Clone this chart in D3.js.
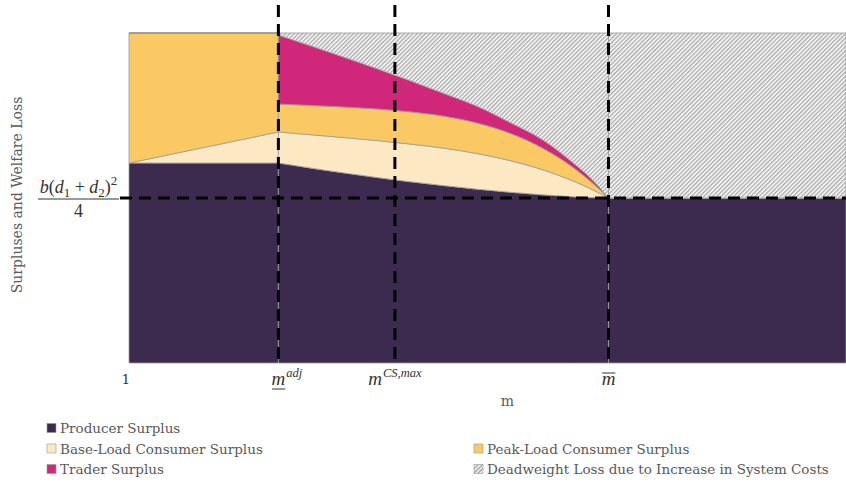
<!DOCTYPE html>
<html>
<head>
<meta charset="utf-8">
<script src="https://cdn.jsdelivr.net/npm/d3@7"></script>
<style>
  body { margin: 0; background: #fff; }
  svg { display: block; }
</style>
</head>
<body>
<svg id="chart" width="846" height="482"></svg>
<script>
// ---- Data -------------------------------------------------------------
const seriesKeys = ["producer", "baseLoad", "peakLoad", "trader", "deadweight"];

// Interval 1: m from 1 up to the adjusted lower bound
const mLeft          = [1.00, 2.00];
const producerLeft   = [0.606, 0.606];
const baseLoadLeft   = [0.000, 0.094];
const peakLoadLeft   = [0.394, 0.300];
const traderLeft     = [0.000, 0.000];
const deadweightLeft = [0.000, 0.000];

// Interval 2: from the adjusted lower bound up to m-bar
const mMid          = [2.00, 2.22, 2.44, 2.66, 2.88, 3.11, 3.33, 3.55, 3.77, 3.99, 4.10, 4.21];
const producerMid   = [0.6061, 0.5905, 0.5759, 0.5621, 0.5493, 0.5375, 0.5268, 0.5174, 0.5095, 0.5034, 0.5012, 0.5000];
const baseLoadMid   = [0.0939, 0.1011, 0.1072, 0.1119, 0.1143, 0.1134, 0.1080, 0.0961, 0.0760, 0.0450, 0.0246, 0.0000];
const peakLoadMid   = [0.0848, 0.0889, 0.0926, 0.0958, 0.0976, 0.0970, 0.0926, 0.0829, 0.0656, 0.0389, 0.0211, 0.0000];
const traderMid     = [0.2091, 0.1799, 0.1509, 0.1222, 0.0945, 0.0684, 0.0506, 0.0326, 0.0249, 0.0127, 0.0091, 0.0000];
const deadweightMid = [0.0061, 0.0396, 0.0734, 0.1080, 0.1443, 0.1837, 0.2220, 0.2710, 0.3240, 0.4000, 0.4440, 0.5000];

// Interval 3: beyond m-bar
const mRight          = [4.21, 5.80];
const producerRight   = [0.500, 0.500];
const baseLoadRight   = [0.000, 0.000];
const peakLoadRight   = [0.000, 0.000];
const traderRight     = [0.000, 0.000];
const deadweightRight = [0.500, 0.500];

// Reference values
const mMin = 1, mMax = 5.80;
const mAdj = 2.00, mCSMax = 2.78, mBar = 4.21;
const welfareLevel = 0.5;   // b(d1+d2)^2 / 4

const legendLabels = {
  producer: "Producer Surplus",
  baseLoad: "Base-Load Consumer Surplus",
  peakLoad: "Peak-Load Consumer Surplus",
  trader: "Trader Surplus",
  deadweight: "Deadweight Loss due to Increase in System Costs"
};

// ---- Setup ------------------------------------------------------------
const svg = d3.select("#chart");
const textColor = "#595959";
const serif = "'DejaVu Serif', serif";
const mathFont = "'Liberation Serif', 'DejaVu Serif', serif";

const plot = { left: 129, right: 846, top: 33, bottom: 363 };
const x = d3.scaleLinear().domain([mMin, mMax]).range([plot.left, plot.right]);
const y = d3.scaleLinear().domain([0, 1]).range([plot.bottom, plot.top]);

const fills = {
  producer: "#3c2b4e",
  baseLoad: "#fde8c4",
  peakLoad: "#fbc964",
  trader: "#d1277b",
  deadweight: "url(#hatch)"
};

// Hatch pattern for the deadweight loss
const defs = svg.append("defs");
function hatchPattern(id, color, width) {
  const p = defs.append("pattern")
    .attr("id", id)
    .attr("patternUnits", "userSpaceOnUse")
    .attr("width", 3).attr("height", 3)
    .attr("patternTransform", "rotate(45)");
  p.append("rect").attr("width", 3).attr("height", 3).attr("fill", "#fff");
  p.append("line")
    .attr("x1", 0.75).attr("y1", 0).attr("x2", 0.75).attr("y2", 3)
    .attr("stroke", color).attr("stroke-width", width);
}
hatchPattern("hatch", "#a6a6a6", 1.4);
hatchPattern("hatchSmall", "#888", 1.2);

// ---- Stacked areas, one interval at a time ----------------------------
function rows(ms, cols) {
  return ms.map((m, i) => {
    const r = { m };
    seriesKeys.forEach(k => { r[k] = cols[k][i]; });
    return r;
  });
}

const intervals = [
  { curve: d3.curveLinear, data: rows(mLeft, {
      producer: producerLeft, baseLoad: baseLoadLeft, peakLoad: peakLoadLeft,
      trader: traderLeft, deadweight: deadweightLeft }) },
  { curve: d3.curveMonotoneX, data: rows(mMid, {
      producer: producerMid, baseLoad: baseLoadMid, peakLoad: peakLoadMid,
      trader: traderMid, deadweight: deadweightMid }) },
  { curve: d3.curveLinear, data: rows(mRight, {
      producer: producerRight, baseLoad: baseLoadRight, peakLoad: peakLoadRight,
      trader: traderRight, deadweight: deadweightRight }) }
];

const stack = d3.stack().keys(seriesKeys);
const areaLayer = svg.append("g");

intervals.forEach(seg => {
  const area = d3.area()
    .curve(seg.curve)
    .x(d => x(d.data.m))
    .y0(d => y(d[0]))
    .y1(d => y(d[1]));
  areaLayer.selectAll(null)
    .data(stack(seg.data))
    .join("path")
    .attr("d", area)
    .attr("fill", d => fills[d.key])
    .attr("stroke", "#9a9a9a")
    .attr("stroke-width", 0.8)
    .attr("stroke-linejoin", "round");
});

// ---- Dashed reference lines -------------------------------------------
const guides = svg.append("g")
  .attr("stroke", "#000")
  .attr("stroke-width", 3)
  .attr("stroke-dasharray", "12,7");

guides.append("line")
  .attr("x1", 120).attr("x2", plot.right)
  .attr("y1", y(welfareLevel)).attr("y2", y(welfareLevel));

[mAdj, mCSMax, mBar].forEach(v => {
  guides.append("line")
    .attr("x1", x(v)).attr("x2", x(v))
    .attr("y1", 5).attr("y2", plot.bottom);
});

// ---- Axis labels ------------------------------------------------------
svg.append("text")
  .attr("transform", `translate(22,195) rotate(-90)`)
  .attr("text-anchor", "middle")
  .attr("font-family", serif)
  .attr("font-size", 14)
  .attr("fill", textColor)
  .text("Surpluses and Welfare Loss");

svg.append("text")
  .attr("x", (plot.left + plot.right) / 2 + 20)
  .attr("y", 406)
  .attr("text-anchor", "middle")
  .attr("font-family", serif)
  .attr("font-size", 14)
  .attr("fill", textColor)
  .text("m");

// Level label on the y axis: b(d1+d2)^2 / 4
const frac = svg.append("g").attr("font-family", mathFont).attr("fill", "#333");
const fracCx = 78.5;
const fracY = y(welfareLevel) + 1;
const num = frac.append("text")
  .attr("x", fracCx).attr("y", fracY - 6)
  .attr("text-anchor", "middle")
  .attr("font-size", 18);
num.append("tspan").attr("font-style", "italic").text("b");
num.append("tspan").text("(");
num.append("tspan").attr("font-style", "italic").text("d");
num.append("tspan").attr("font-size", 13).attr("dy", 4).text("1");
num.append("tspan").attr("dy", -4).text(" + ");
num.append("tspan").attr("font-style", "italic").text("d");
num.append("tspan").attr("font-size", 13).attr("dy", 4).text("2");
num.append("tspan").attr("dy", -4).text(")");
num.append("tspan").attr("font-size", 13).attr("dy", -8).text("2");
frac.append("line")
  .attr("x1", 38).attr("x2", 119)
  .attr("y1", fracY).attr("y2", fracY)
  .attr("stroke", "#333").attr("stroke-width", 1);
frac.append("text")
  .attr("x", fracCx).attr("y", fracY + 18)
  .attr("text-anchor", "middle")
  .attr("font-size", 18)
  .text("4");

// ---- X tick labels ----------------------------------------------------
svg.append("text")
  .attr("x", x(mMin) - 3).attr("y", 384)
  .attr("text-anchor", "middle")
  .attr("font-family", serif)
  .attr("font-size", 13)
  .attr("fill", "#333")
  .text("1");

const mathTicks = [
  { value: mAdj,   sup: "adj",    accent: "under", centerOn: "base" },
  { value: mCSMax, sup: "CS,max", accent: null,    centerOn: "whole" },
  { value: mBar,   sup: "",       accent: "over",  centerOn: "base" }
];

mathTicks.forEach(t => {
  const g = svg.append("g").attr("font-family", mathFont).attr("fill", "#333");
  const base = g.append("text")
    .attr("y", 385)
    .attr("font-size", 19)
    .attr("font-style", "italic")
    .text("m");
  const bw = base.node().getComputedTextLength();
  let sw = 0, sup = null;
  if (t.sup) {
    sup = g.append("text")
      .attr("y", 377)
      .attr("font-size", 12.5)
      .attr("font-style", "italic")
      .text(t.sup);
    sw = sup.node().getComputedTextLength() + 1;
  }
  const x0 = t.centerOn === "base" ? x(t.value) - bw / 2 : x(t.value) - (bw + sw) / 2;
  base.attr("x", x0);
  if (sup) sup.attr("x", x0 + bw + 1);
  if (t.accent) {
    const ay = t.accent === "under" ? 389 : 373;
    g.append("line")
      .attr("x1", x0 + 0.5).attr("x2", x0 + bw)
      .attr("y1", ay).attr("y2", ay)
      .attr("stroke", "#333").attr("stroke-width", 1);
  }
});

// ---- Legend -----------------------------------------------------------
const legendItems = [
  { key: "producer",   col: 0, row: 0 },
  { key: "baseLoad",   col: 0, row: 1 },
  { key: "trader",     col: 0, row: 2 },
  { key: "peakLoad",   col: 1, row: 1 },
  { key: "deadweight", col: 1, row: 2 }
];
const legendX = [47, 474];
const legendY0 = 428, legendDy = 20.5;
const legend = svg.append("g");
legendItems.forEach(it => {
  const lx = legendX[it.col], ly = legendY0 + it.row * legendDy;
  legend.append("rect")
    .attr("x", lx).attr("y", ly - 4.5)
    .attr("width", 9).attr("height", 9)
    .attr("fill", it.key === "deadweight" ? "url(#hatchSmall)" : fills[it.key])
    .attr("stroke", "#9a9a9a").attr("stroke-width", 0.6);
  legend.append("text")
    .attr("x", lx + 13).attr("y", ly + 5)
    .attr("font-family", serif)
    .attr("font-size", 13.5)
    .attr("fill", textColor)
    .text(legendLabels[it.key]);
});
</script>
</body>
</html>
